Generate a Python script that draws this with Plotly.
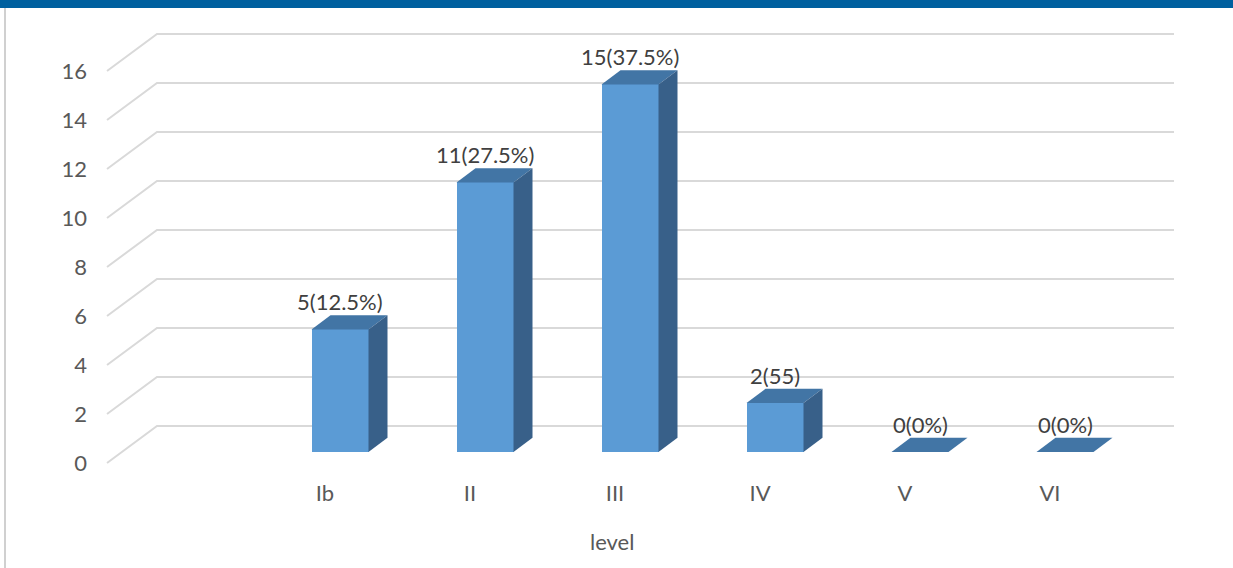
import plotly.graph_objects as go

# ---------------- data ----------------
categories = ["Ib", "II", "III", "IV", "V", "VI"]
counts = [5, 11, 15, 2, 0, 0]
data_labels = ["5(12.5%)", "11(27.5%)", "15(37.5%)", "2(55)", "0(0%)", "0(0%)"]
y_ticks = [0, 2, 4, 6, 8, 10, 12, 14, 16]
x_title = "level"

# ---------------- geometry / style ----------------
W, H = 1233, 568
ML, MR, MT, MB = 100, 53, 20, 98
PX_PER_CAT = 145.0
PX_PER_UNIT = 24.5
CAT0_PX = 325.0          # pixel of first category on front plane
ZERO_PX = 463.0          # pixel of value 0 on front plane
plot_w = W - ML - MR
plot_h = H - MT - MB

def px_to_x(p):
    return (p - CAT0_PX) / PX_PER_CAT

def py_to_y(p):
    return (ZERO_PX - p) / PX_PER_UNIT

x_range = [px_to_x(ML), px_to_x(W - MR)]
y_range = [py_to_y(H - MB), py_to_y(MT)]

# oblique depth vector (full depth of the chart floor)
DEPTH_DX = 50 / PX_PER_CAT
DEPTH_DY = 37 / PX_PER_UNIT
BAR_FRONT_D = 0.30
BAR_DEPTH_D = 0.38
BAR_W = 57 / PX_PER_CAT
GRID_FRONT_X = px_to_x(107)
GRID_BACK_END_X = px_to_x(1174)

FRONT = "#5B9BD5"
TOP = "#4275A5"
SIDE = "#386089"
GRID = "#D9D9D9"
TXT = "#595959"
FONT = "Lato"

fig = go.Figure()

# gridlines (floor diagonal + back wall)
gx, gy = [], []
for v in y_ticks:
    gx += [GRID_FRONT_X, GRID_FRONT_X + DEPTH_DX, GRID_BACK_END_X, None]
    gy += [v, v + DEPTH_DY, v + DEPTH_DY, None]
fig.add_trace(go.Scatter(x=gx, y=gy, mode="lines", line=dict(color=GRID, width=2),
                         hoverinfo="skip", showlegend=False, zorder=0))

# bar geometry offsets
fdx, fdy = DEPTH_DX * BAR_FRONT_D, DEPTH_DY * BAR_FRONT_D
sdx, sdy = DEPTH_DX * BAR_DEPTH_D, DEPTH_DY * BAR_DEPTH_D
xc = [i + fdx for i in range(len(categories))]

# front faces
fig.add_trace(go.Bar(x=xc, y=counts, base=fdy, width=BAR_W,
                     marker=dict(color=FRONT, line=dict(width=0)),
                     showlegend=False, hoverinfo="skip", zorder=1))

# top and side faces
for i, v in enumerate(counts):
    xl = xc[i] - BAR_W / 2
    xr = xc[i] + BAR_W / 2
    top = v + fdy
    base = fdy
    fig.add_trace(go.Scatter(
        x=[xl, xr, xr + sdx, xl + sdx, xl], y=[top, top, top + sdy, top + sdy, top],
        fill="toself", fillcolor=TOP, mode="lines", line=dict(width=0, color=TOP),
        hoverinfo="skip", showlegend=False, zorder=2))
    if v > 0:
        fig.add_trace(go.Scatter(
            x=[xr, xr + sdx, xr + sdx, xr, xr], y=[base, base + sdy, top + sdy, top, base],
            fill="toself", fillcolor=SIDE, mode="lines", line=dict(width=0, color=SIDE),
            hoverinfo="skip", showlegend=False, zorder=2))
    fig.add_annotation(x=xc[i], y=top, text=data_labels[i], showarrow=False,
                       yanchor="bottom", yshift=12, xanchor="center",
                       font=dict(family=FONT, size=22, color="#404040"))

# axis title
fig.add_annotation(x=px_to_x(612), xref="x", y=(H - MB - 541) / plot_h, yref="paper",
                   text=x_title, showarrow=False, xanchor="center", yanchor="middle",
                   font=dict(family=FONT, size=22, color=TXT))

# header band and left border
fig.add_shape(type="rect", xref="paper", yref="paper",
              x0=-ML / plot_w, x1=(W - ML) / plot_w,
              y0=(H - MB - 8) / plot_h, y1=(H - MB) / plot_h,
              fillcolor="#00609F", line=dict(width=0), layer="above")
fig.add_shape(type="line", xref="paper", yref="paper",
              x0=(5 - ML) / plot_w, x1=(5 - ML) / plot_w,
              y0=-MB / plot_h, y1=(H - MB - 8) / plot_h,
              line=dict(color="#D0D0D0", width=2))

fig.update_layout(
    width=W, height=H,
    margin=dict(l=ML, r=MR, t=MT, b=MB, pad=0),
    paper_bgcolor="white", plot_bgcolor="white",
    font=dict(family=FONT, size=22, color=TXT),
    bargap=0,
    xaxis=dict(range=x_range, tickvals=list(range(len(categories))), ticktext=categories,
               showgrid=False, zeroline=False, showline=False, ticks="",
               ticklabelstandoff=8, fixedrange=True),
    yaxis=dict(range=y_range, tickvals=y_ticks, showgrid=False, zeroline=False,
               showline=False, ticks="", ticklabelstandoff=12, fixedrange=True),
)

fig.write_html("out.html")
